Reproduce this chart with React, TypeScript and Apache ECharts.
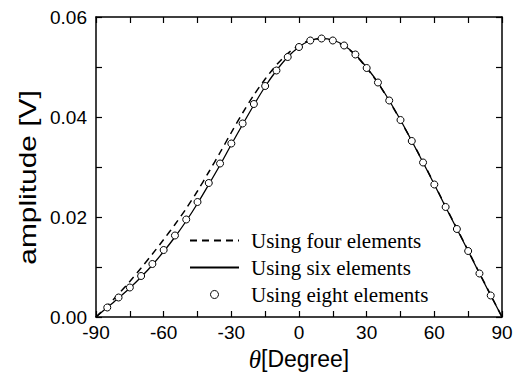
import React, { useEffect, useRef } from "react";
import * as echarts from "echarts";

// Incidence angle grid for the two simulated curves (degrees)
const lineAngles = [
  -90, -85, -80, -75, -70, -65, -60, -55, -50, -45, -40, -35, -30, -25, -20, -15, -10, -5, 0,
  5, 10, 15, 20, 25, 30, 35, 40, 45, 50, 55, 60, 65, 70, 75, 80, 85, 90,
];

// Amplitude [V] computed with four elements
const fourElements = [
  0.0, 0.0022, 0.0046, 0.0071, 0.0098, 0.0126, 0.0155, 0.0185, 0.0217, 0.0252, 0.029, 0.0329,
  0.0369, 0.0408, 0.0444, 0.0476, 0.0504, 0.0527, 0.0543, 0.0554, 0.0557, 0.0553, 0.0542,
  0.0524, 0.0498, 0.0468, 0.0432, 0.0393, 0.0352, 0.031, 0.0266, 0.0221, 0.0177, 0.0133,
  0.0088, 0.0044, 0.0,
];

// Amplitude [V] computed with six elements
const sixElements = [
  0.0, 0.0019, 0.0038, 0.0058, 0.008, 0.0104, 0.0131, 0.016, 0.0192, 0.0227, 0.0265, 0.0304,
  0.0345, 0.0385, 0.0424, 0.0461, 0.0493, 0.052, 0.054, 0.0553, 0.0557, 0.0554, 0.0543,
  0.0525, 0.0499, 0.0469, 0.0433, 0.0394, 0.0352, 0.0309, 0.0265, 0.022, 0.0176, 0.0132,
  0.0087, 0.0043, 0.0,
];

// Angles and amplitudes [V] computed with eight elements (markers)
const eightAngles = [
  -85, -80, -75, -70, -65, -60, -55, -50, -45, -40, -35, -30, -25, -20, -15, -10, -5, 0, 5,
  10, 15, 20, 25, 30, 35, 40, 45, 50, 55, 60, 65, 70, 75, 80, 85,
];
const eightElements = [
  0.0019, 0.0039, 0.0059, 0.0082, 0.0106, 0.0134, 0.0163, 0.0195, 0.023, 0.0268, 0.0307,
  0.0347, 0.0387, 0.0426, 0.0462, 0.0493, 0.052, 0.054, 0.0553, 0.0557, 0.0553, 0.0543,
  0.0525, 0.0498, 0.0469, 0.0433, 0.0394, 0.0352, 0.0309, 0.0265, 0.022, 0.0176, 0.0132,
  0.0087, 0.0043,
];

const seriesNames = ["Using four elements", "Using six elements", "Using eight elements"];

const SANS = '"Liberation Sans", Arial, sans-serif';
const SERIF = '"Liberation Serif", "Times New Roman", serif';

export default function App() {
  const ref = useRef<HTMLDivElement>(null);

  useEffect(() => {
    if (!ref.current) return;
    const chart = echarts.init(ref.current, undefined, { renderer: "svg" });

    const axisLine = { show: true, onZero: false, lineStyle: { color: "#000", width: 1.5 } };
    const tick = { show: true, inside: true, length: 6, lineStyle: { color: "#000", width: 1.2 } };
    const minor = { show: true, splitNumber: 2, length: 6, lineStyle: { color: "#000", width: 1.2 } };

    const xBase = {
      type: "value" as const,
      min: -90,
      max: 90,
      interval: 30,
      axisLine,
      axisTick: tick,
      minorTick: minor,
      splitLine: { show: false },
      minorSplitLine: { show: false },
    };
    const yBase = {
      type: "value" as const,
      min: 0,
      max: 0.06,
      interval: 0.02,
      axisLine,
      axisTick: tick,
      minorTick: minor,
      splitLine: { show: false },
      minorSplitLine: { show: false },
    };

    chart.setOption({
      animation: false,
      backgroundColor: "#fff",
      grid: {
        left: 96,
        right: 14,
        top: 17,
        bottom: 56,
        containLabel: false,
        outerBoundsMode: "none",
      },
      xAxis: [
        {
          ...xBase,
          position: "bottom",
          axisLabel: {
            color: "#000",
            fontFamily: SANS,
            fontSize: 19,
            margin: 6,
          },
          name: "{t|θ}{d|[Degree]}",
          nameLocation: "middle",
          nameGap: 28,
          nameTextStyle: {
            rich: {
              t: { fontFamily: SERIF, fontStyle: "italic", fontSize: 25, color: "#000" },
              d: { fontFamily: SANS, fontSize: 23, color: "#000" },
            },
          },
        },
        { ...xBase, position: "top", axisLabel: { show: false } },
      ],
      yAxis: [
        {
          ...yBase,
          position: "left",
          axisLabel: {
            color: "#000",
            fontFamily: SANS,
            fontSize: 19,
            margin: 9,
            formatter: (v: number) => v.toFixed(2),
          },
        },
        { ...yBase, position: "right", axisLabel: { show: false } },
      ],
      legend: {
        orient: "vertical",
        left: 189,
        top: 230,
        padding: 0,
        itemWidth: 49,
        itemHeight: 8,
        itemGap: 6,
        textStyle: {
          fontFamily: SERIF,
          fontSize: 21,
          lineHeight: 21,
          color: "#000",
          padding: [0, 0, 0, 7],
        },
        data: [
          { name: seriesNames[0], itemStyle: { opacity: 0 } },
          { name: seriesNames[1], itemStyle: { opacity: 0 } },
          { name: seriesNames[2], itemStyle: { borderWidth: 1, borderColor: "#000", color: "#fff" } },
        ],
      },
      graphic: [
        {
          type: "text",
          x: 28.5,
          y: 177.5,
          rotation: Math.PI / 2,
          scaleX: 1.3,
          style: {
            text: "amplitude [V]",
            font: `23px ${SANS}`,
            fill: "#000",
            align: "center",
            verticalAlign: "middle",
          },
        },
      ],
      series: [
        {
          name: seriesNames[0],
          type: "line",
          symbol: "none",
          smooth: 0.3,
          itemStyle: { color: "#000" },
          lineStyle: { color: "#000", width: 1.5, type: [7, 5] },
          data: lineAngles.map((a, i) => [a, fourElements[i]]),
          z: 2,
        },
        {
          name: seriesNames[1],
          type: "line",
          symbol: "none",
          smooth: 0.3,
          itemStyle: { color: "#000" },
          lineStyle: { color: "#000", width: 1.3, type: "solid" },
          data: lineAngles.map((a, i) => [a, sixElements[i]]),
          z: 3,
        },
        {
          name: seriesNames[2],
          type: "scatter",
          symbol: "circle",
          symbolSize: 7,
          itemStyle: { color: "#fff", borderColor: "#000", borderWidth: 1, opacity: 1 },
          data: eightAngles.map((a, i) => [a, eightElements[i]]),
          z: 4,
        },
      ],
    });

    return () => chart.dispose();
  }, []);

  return (
    <div
      ref={ref}
      style={{ position: "fixed", left: 0, top: 0, width: 516, height: 373, background: "#fff" }}
    />
  );
}
